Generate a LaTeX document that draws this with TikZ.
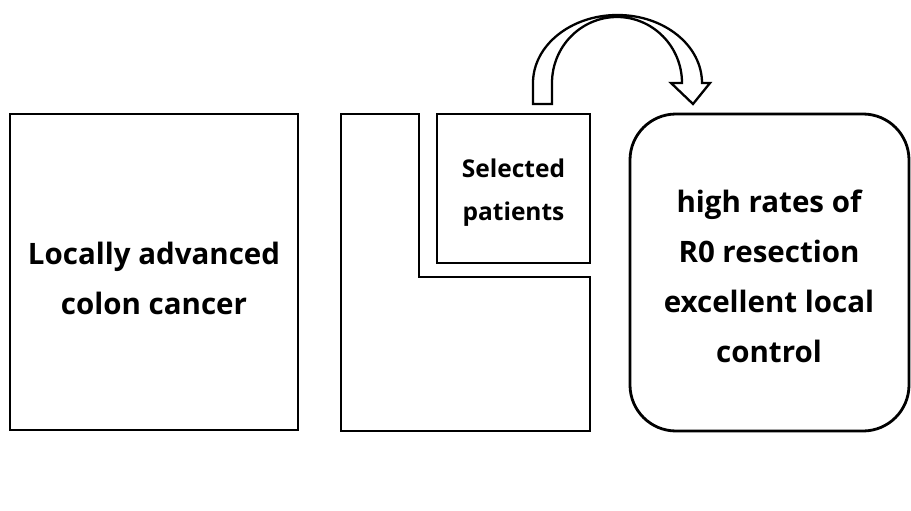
\documentclass[tikz,border=0pt]{standalone}
\usepackage{fontspec}
\setmainfont{Open Sans}
\begin{document}
\begin{tikzpicture}[x=1pt,y=-1pt,
  frame/.style={draw=black,line width=2.8pt,line join=miter},
  bigtext/.style={font=\bfseries\fontsize{29.5}{50}\selectfont,align=center},
  smalltext/.style={font=\bfseries\fontsize{24.5}{43}\selectfont,align=center}]
\useasboundingbox (0,0) rectangle (911,511);
% left box
\draw[frame] (10,114) rectangle (298,430);
\node[bigtext] (lac) at (154,278) {Locally advanced\\colon cancer};
% L shape
\draw[frame] (341,114) -- (419,114) -- (419,277) -- (590,277) -- (590,431) -- (341,431) -- cycle;
% selected box
\draw[frame] (437,114) rectangle (590,263);
\node[smalltext] (sel) at (513.5,193) {Selected\\patients};
% rounded result box
\draw[frame,rounded corners=46pt] (630,114) rectangle (909,431);
\node[bigtext] (res) at (769,276) {high rates of\\R0 resection\\excellent local\\control};
% curved block arrow
\draw[frame,line width=2.3pt,fill=white]
  (533,104) -- (533,83) arc[start angle=180,end angle=360,x radius=84.5,y radius=68]
  -- (710,83) -- (693,104) -- (671,83) -- (682,83)
  arc[start angle=0,end angle=-180,x radius=65,y radius=66]
  -- (552,104) -- cycle;
\end{tikzpicture}
\end{document}
